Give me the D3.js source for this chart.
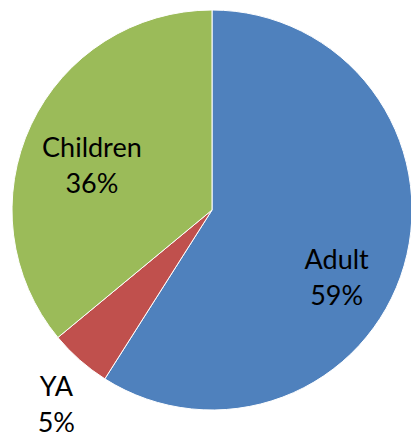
<!DOCTYPE html>
<html>
<head>
<meta charset="utf-8">
<script src="https://cdn.jsdelivr.net/npm/d3@7"></script>
<style>
  html, body { margin: 0; padding: 0; background: #fff; overflow: hidden; }
  svg { display: block; }
</style>
</head>
<body>
<svg id="chart" width="411" height="438"></svg>
<script>
const categories = ["Adult", "YA", "Children"];
const values = [59, 5, 36];
const pctLabels = ["59%", "5%", "36%"];
const colors = ["#4F81BD", "#C0504D", "#9BBB59"];
// label radius as fraction of pie radius (inside vs. outside placement)
const labelRadiusFactor = [0.70, 1.25, 0.65];
const labelAngleShift = [0.22, -0.04, -0.09];

const width = 411, height = 438;
const cx = 212, cy = 210, radius = 200;

const svg = d3.select("#chart");
const g = svg.append("g").attr("transform", `translate(${cx},${cy})`);

const data = categories.map((c, i) => ({ cat: c, value: values[i], pct: pctLabels[i], i }));

const pie = d3.pie().value(d => d.value).sort(null);
const arc = d3.arc().innerRadius(0).outerRadius(radius);
const arcs = pie(data);

g.selectAll("path.slice")
  .data(arcs)
  .join("path")
  .attr("class", "slice")
  .attr("d", arc)
  .attr("fill", d => colors[d.data.i])
  .attr("stroke", "#ffffff")
  .attr("stroke-width", 1);

const fontFamily = "Lato, 'Open Sans', sans-serif";
const fontSize = 27;

arcs.forEach(d => {
  const mid = (d.startAngle + d.endAngle) / 2 + labelAngleShift[d.data.i];
  const r = radius * labelRadiusFactor[d.data.i];
  const x = Math.sin(mid) * r + 2;
  const y = -Math.cos(mid) * r;
  const t = g.append("text")
    .attr("text-anchor", "middle")
    .attr("font-family", fontFamily)
    .attr("font-size", fontSize)
    .attr("fill", "#000");
  t.append("tspan").attr("x", x).attr("y", y - 18 + 10).text(d.data.cat);
  t.append("tspan").attr("x", x).attr("y", y + 18 + 10).text(d.data.pct);
});
</script>
</body>
</html>
